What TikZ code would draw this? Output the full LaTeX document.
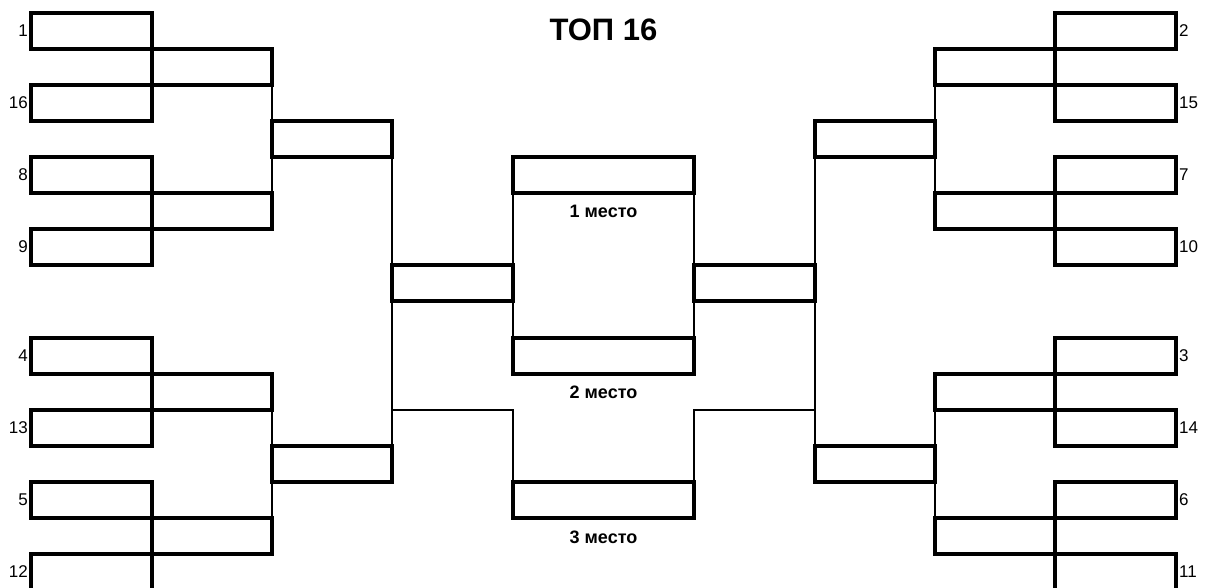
\documentclass[tikz,border=0pt]{standalone}
\usepackage{fontspec}
\setmainfont{Liberation Sans}
\begin{document}
\begin{tikzpicture}[x=1pt,y=-1pt,
  box/.style={draw=black, rectangle, line width=4.5pt, inner sep=0pt, outer sep=0pt},
  thin/.style={draw=black, line width=2.5pt, line cap=rect},
  seed/.style={inner sep=0pt, font=\fontsize{17}{20}\selectfont},
  place/.style={inner sep=0pt, font=\fontsize{18}{21}\selectfont\bfseries},
  titlestyle/.style={inner sep=0pt, font=\fontsize{31}{36}\selectfont\bfseries}]
\newcommand\bx[5]{\node[box, minimum width={(#4-#2)*1pt}, minimum height={(#5-#3)*1pt}] (#1) at ({(#2+#4)/2},{(#3+#5)/2}) {};}
\useasboundingbox (0,0) rectangle (1209,588);
\fill[white] (0,0) rectangle (1209,588);
% thin connectors
% left
\coordinate (la1) at (272,85);
\draw[thin] (272,85) -- (272,121);
\draw[thin] (272,157) -- (272,193);
\draw[thin] (272,410) -- (272,446);
\draw[thin] (272,482) -- (272,518);
\draw[thin] (392,157) -- (392,265);
\draw[thin] (392,301) -- (392,446);
\draw[thin] (513,193) -- (513,338);
\draw[thin] (694,193) -- (694,338);
\draw[thin,line cap=butt] (392,410) -| (513,482);
% right
\draw[thin] (935,85) -- (935,121);
\draw[thin] (935,157) -- (935,193);
\draw[thin] (935,410) -- (935,446);
\draw[thin] (935,482) -- (935,518);
\draw[thin] (815,157) -- (815,265);
\draw[thin] (815,301) -- (815,446);
\draw[thin,line cap=butt] (815,410) -| (694,482);
% left round 1
\bx{s1}{31}{13}{152}{49}
\bx{s16}{31}{85}{152}{121}
\bx{s8}{31}{157}{152}{193}
\bx{s9}{31}{229}{152}{265}
\bx{s4}{31}{338}{152}{374}
\bx{s13}{31}{410}{152}{446}
\bx{s5}{31}{482}{152}{518}
\bx{s12}{31}{554}{152}{590}
% left round 2
\bx{LA}{152}{49}{272}{85}
\bx{LB}{152}{193}{272}{229}
\bx{LC}{152}{374}{272}{410}
\bx{LD}{152}{518}{272}{554}
% left round 3
\bx{LE}{272}{121}{392}{157}
\bx{LF}{272}{446}{392}{482}
% left semi
\bx{LS}{392}{265}{513}{301}
% finals
\bx{F1}{513}{157}{694}{193}
\bx{F2}{513}{338}{694}{374}
\bx{F3}{513}{482}{694}{518}
% right semi
\bx{RS}{694}{265}{815}{301}
% right round 3
\bx{RE}{815}{121}{935}{157}
\bx{RF}{815}{446}{935}{482}
% right round 2
\bx{RA}{935}{49}{1055}{85}
\bx{RB}{935}{193}{1055}{229}
\bx{RC}{935}{374}{1055}{410}
\bx{RD}{935}{518}{1055}{554}
% right round 1
\bx{s2}{1055}{13}{1176}{49}
\bx{s15}{1055}{85}{1176}{121}
\bx{s7}{1055}{157}{1176}{193}
\bx{s10}{1055}{229}{1176}{265}
\bx{s3}{1055}{338}{1176}{374}
\bx{s14}{1055}{410}{1176}{446}
\bx{s6}{1055}{482}{1176}{518}
\bx{s11}{1055}{554}{1176}{590}
% seed labels
\foreach \n in {1,16,8,9,4,13,5,12}{
  \node[seed, anchor=east] (l\n) at ([xshift=-3pt]s\n.west) {\n};}
\foreach \n in {2,15,7,10,3,14,6,11}{
  \node[seed, anchor=west] (l\n) at ([xshift=3pt]s\n.east) {\n};}
% texts
\node[titlestyle] (title) at (603.5,30) {ТОП 16};
\node[place] (p1) at (603.5,211) {1 место};
\node[place] (p2) at (603.5,392) {2 место};
\node[place] (p3) at (603.5,537) {3 место};
\end{tikzpicture}
\end{document}
